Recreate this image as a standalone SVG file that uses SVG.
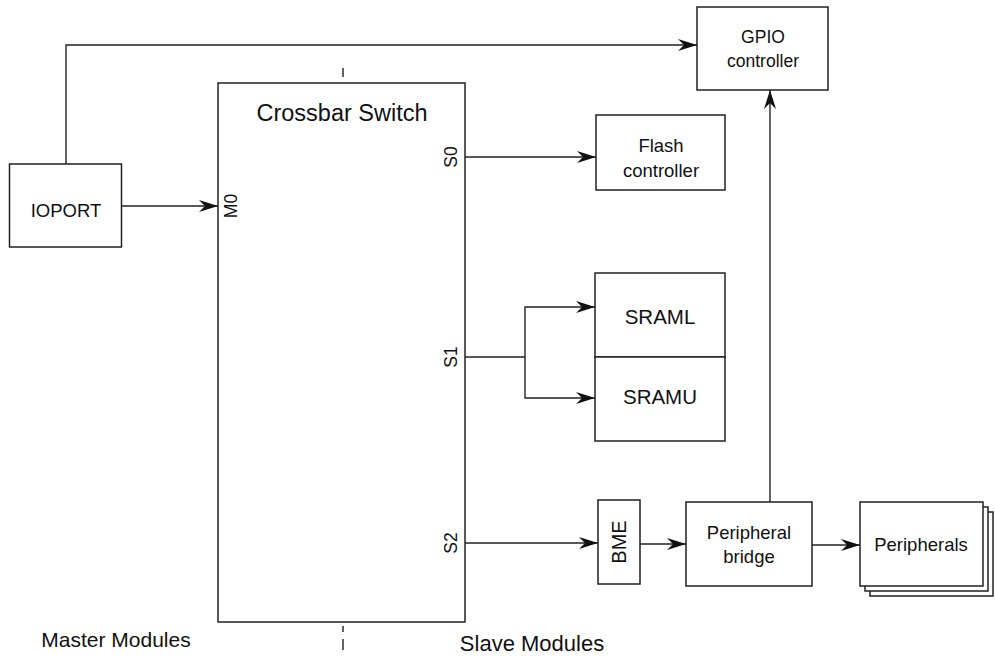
<svg xmlns="http://www.w3.org/2000/svg" width="995" height="658" viewBox="0 0 995 658">
<style>
.box{fill:#fff;stroke:#222;stroke-width:1.5}
.ln{fill:none;stroke:#222;stroke-width:1.4}
.arr{marker-end:url(#ah)}
text{font-family:"Liberation Sans",Arial,sans-serif;fill:#111;text-anchor:middle}
</style>
<defs>
<marker id="ah" markerUnits="userSpaceOnUse" markerWidth="22" markerHeight="14" viewBox="-20 -7 21 14" refX="0" refY="0" orient="auto">
<path d="M0,0 L-19,-6 L-13,0 L-19,6 Z" fill="#111"/>
</marker>
</defs>
<g id="connectors">
<path class="ln arr" d="M66,164 V45 H697"/>
<path class="ln arr" d="M122,206 H218"/>
<path class="ln arr" d="M465,157 H596"/>
<path class="ln" d="M465,357 H525"/>
<path class="ln arr" d="M525,357 V307 H595"/>
<path class="ln arr" d="M525,357 V398 H595"/>
<path class="ln arr" d="M465,543 H598"/>
<path class="ln arr" d="M640,544 H686"/>
<path class="ln arr" d="M812,545 H860"/>
<path class="ln arr" d="M770,502 V90"/>
<path class="ln" d="M343,68 V77 M343,626 V632 M343,639 V650"/>
</g>
<g id="crossbar">
<rect class="box" x="218" y="83" width="247" height="539"/>
<text x="342" y="121" font-size="23.5">Crossbar Switch</text>
<text transform="translate(237,206) rotate(-90)" font-size="17.5">M0</text>
<text transform="translate(457,157) rotate(-90)" font-size="17.5">S0</text>
<text transform="translate(457,357) rotate(-90)" font-size="17.5">S1</text>
<text transform="translate(457,543) rotate(-90)" font-size="17.5">S2</text>
</g>
<g id="ioport">
<rect class="box" x="9.5" y="164" width="112" height="83"/>
<text x="66" y="217" font-size="18.5">IOPORT</text>
</g>
<g id="gpio">
<rect class="box" x="697" y="7" width="131" height="83"/>
<text x="763" y="43" font-size="17.5">GPIO</text>
<text x="763" y="67" font-size="17.5">controller</text>
</g>
<g id="flash">
<rect class="box" x="596" y="115" width="129" height="75"/>
<text x="661" y="152" font-size="18.5">Flash</text>
<text x="661" y="177" font-size="18.5">controller</text>
</g>
<g id="sraml">
<rect class="box" x="595" y="273" width="130" height="84"/>
<text x="660" y="324" font-size="20.5">SRAML</text>
</g>
<g id="sramu">
<rect class="box" x="595" y="357" width="130" height="84"/>
<text x="660" y="404" font-size="20.5">SRAMU</text>
</g>
<g id="bme">
<rect class="box" x="598" y="500" width="42" height="84"/>
<text transform="translate(626,542) rotate(-90)" font-size="20">BME</text>
</g>
<g id="bridge">
<rect class="box" x="686" y="502" width="126" height="84"/>
<text x="749" y="539" font-size="18.5">Peripheral</text>
<text x="749" y="563" font-size="18.5">bridge</text>
</g>
<g id="peripherals">
<rect class="box" x="870" y="512" width="123" height="84"/>
<rect class="box" x="865" y="507" width="123" height="84"/>
<rect class="box" x="860" y="502" width="123" height="84"/>
<text x="921" y="551" font-size="18.5">Peripherals</text>
</g>
<g id="labels">
<text x="116" y="647" font-size="21">Master Modules</text>
<text x="532" y="651" font-size="22">Slave Modules</text>
</g>
</svg>
